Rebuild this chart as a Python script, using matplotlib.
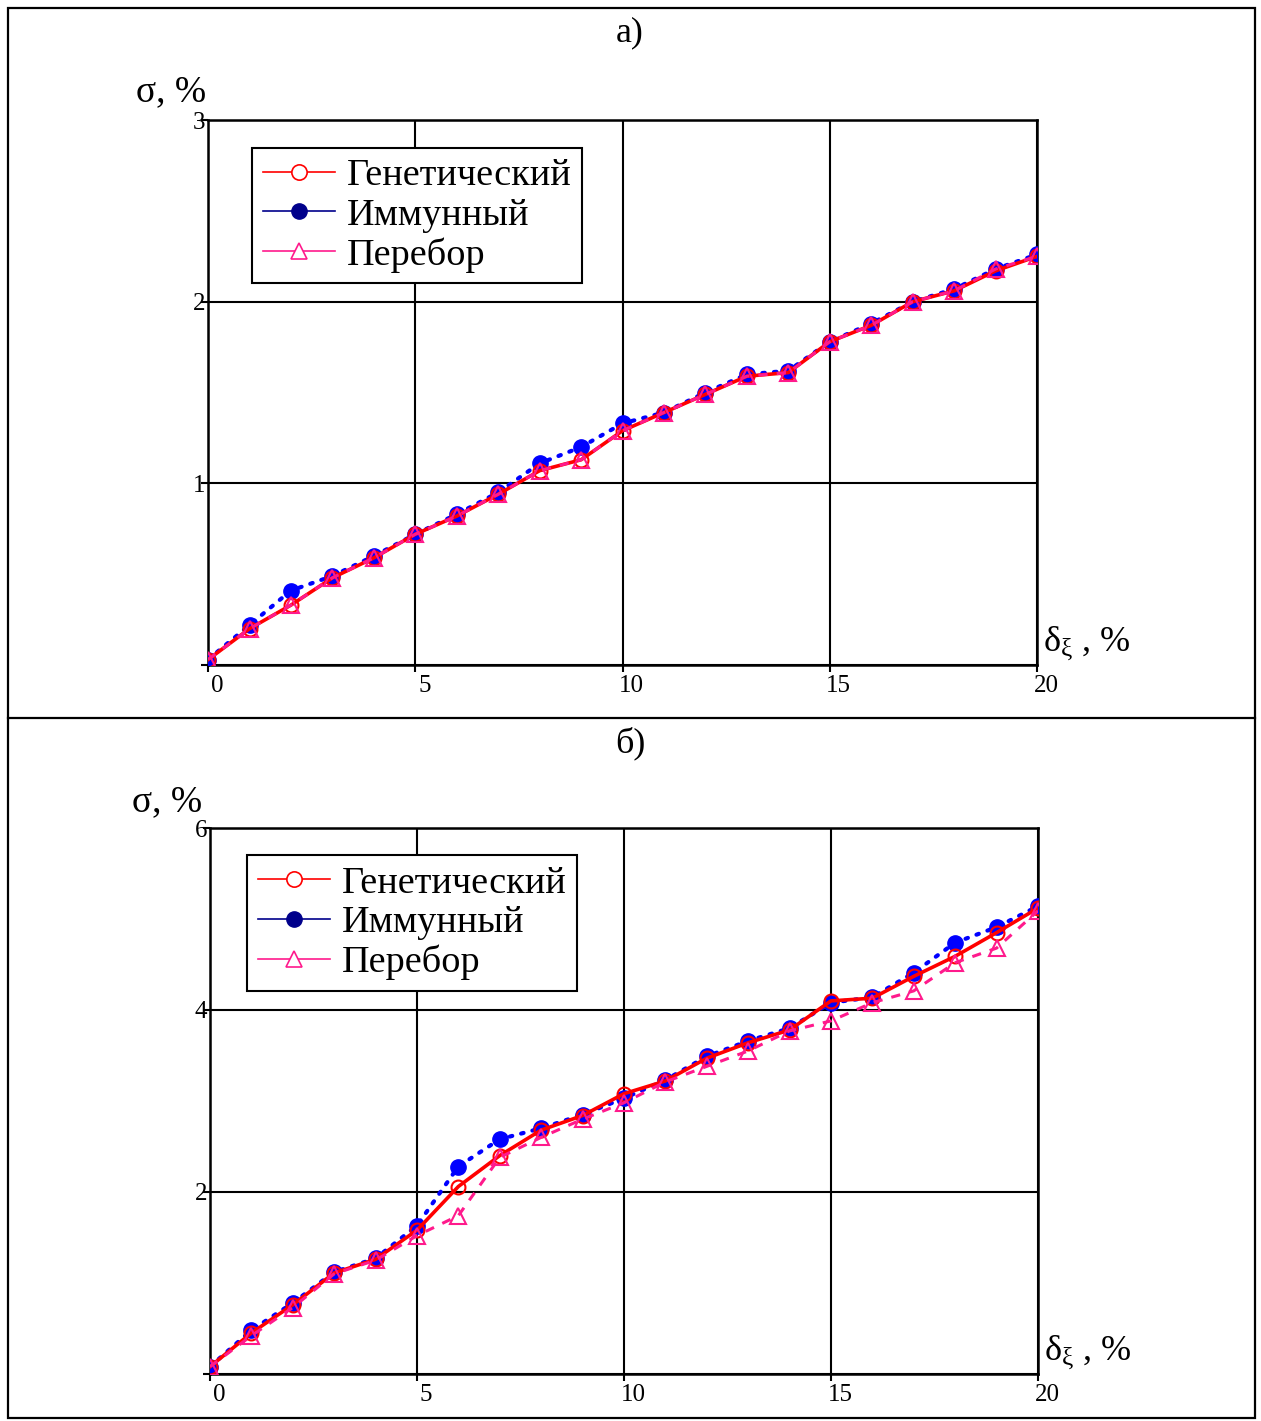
import numpy as np
import matplotlib
matplotlib.use("Agg")
import matplotlib.pyplot as plt
from matplotlib.lines import Line2D
from matplotlib.transforms import ScaledTranslation

plt.rcParams['font.family'] = ['Liberation Serif', 'DejaVu Serif']
plt.rcParams['mathtext.fontset'] = 'custom'
plt.rcParams['mathtext.rm'] = 'Liberation Serif'
plt.rcParams['mathtext.it'] = 'Liberation Serif'

x = np.arange(0, 21)
names = ['Генетический', 'Иммунный', 'Перебор']

# panel a)
gen_a = [0.03, 0.20, 0.33, 0.48, 0.59, 0.72, 0.82, 0.94, 1.07, 1.13, 1.29,
         1.39, 1.49, 1.59, 1.61, 1.78, 1.87, 2.00, 2.06, 2.17, 2.25]
imm_a = [0.03, 0.22, 0.41, 0.49, 0.60, 0.72, 0.83, 0.95, 1.11, 1.20, 1.33,
         1.39, 1.50, 1.60, 1.62, 1.78, 1.88, 2.00, 2.07, 2.18, 2.26]
per_a = [0.03, 0.20, 0.33, 0.48, 0.59, 0.72, 0.82, 0.94, 1.07, 1.13, 1.29,
         1.39, 1.49, 1.59, 1.61, 1.78, 1.87, 2.00, 2.06, 2.18, 2.25]

# panel б)
gen_b = [0.08, 0.45, 0.76, 1.11, 1.26, 1.58, 2.06, 2.40, 2.68, 2.84, 3.08,
         3.22, 3.47, 3.64, 3.78, 4.10, 4.13, 4.37, 4.59, 4.85, 5.12]
imm_b = [0.08, 0.48, 0.78, 1.12, 1.27, 1.63, 2.28, 2.58, 2.70, 2.85, 3.03,
         3.23, 3.49, 3.66, 3.80, 4.08, 4.14, 4.41, 4.74, 4.91, 5.14]
per_b = [0.08, 0.42, 0.73, 1.10, 1.25, 1.52, 1.74, 2.38, 2.60, 2.80, 2.98,
         3.21, 3.38, 3.55, 3.77, 3.88, 4.08, 4.21, 4.52, 4.68, 5.09]

red = '#ff0000'
blue = '#0000ff'
pink = '#ff1a8c'
navy = '#00008b'

fig = plt.figure(figsize=(12.61, 14.21), dpi=100)


def draw_panel(rect, gen, imm, per, ymax, yticks, leg_anchor):
    ax = fig.add_axes(rect)
    ax.plot(x, imm, color=blue, ls=(0, (0.6, 2.2)), lw=3, marker='o', ms=11,
            mfc=blue, mec=blue, zorder=3, dash_capstyle='round')
    ax.plot(x, gen, color=red, ls='-', lw=2.6, marker='o', ms=10,
            mfc='none', mec=red, mew=1.5, zorder=4)
    ax.plot(x, per, color=pink, ls=(0, (3, 3)), lw=2.2, marker='^', ms=11,
            mfc='none', mec=pink, mew=1.5, zorder=5)
    ax.set_xlim(0, 20)
    ax.set_ylim(0, ymax)
    ax.set_xticks([0, 5, 10, 15, 20])
    ax.set_yticks(yticks)
    ax.set_yticklabels([str(v) if v != 0 else '' for v in yticks])
    ax.grid(True, color='black', lw=1.5)
    ax.set_axisbelow(True)
    for s in ax.spines.values():
        s.set_linewidth(1.8)
    ax.tick_params(direction='out', length=5, width=1.5, labelsize=18, pad=2)
    ax.tick_params(axis='y', pad=-3)
    # x tick labels sit a bit to the right of their ticks
    off = ScaledTranslation(0.09, 0, fig.dpi_scale_trans)
    for lab in ax.get_xticklabels():
        lab.set_transform(lab.get_transform() + off)
    handles = [
        Line2D([], [], color=red, lw=1.2, marker='o', ms=11, mfc='white', mec=red, mew=1.2),
        Line2D([], [], color=navy, lw=1.2, marker='o', ms=11, mfc=navy, mec=navy),
        Line2D([], [], color=pink, lw=1.2, marker='^', ms=12, mfc='white', mec=pink, mew=1.2),
    ]
    leg = ax.legend(handles, names, loc='upper left', bbox_to_anchor=leg_anchor,
                    borderaxespad=0, fontsize=27.5, handlelength=1.9,
                    handletextpad=0.3, labelspacing=0.12, borderpad=0.28,
                    fancybox=False, framealpha=1, edgecolor='black')
    leg.get_frame().set_linewidth(1.5)
    return ax


draw_panel([0.165, 0.532, 0.6574, 0.3835], gen_a, imm_a, per_a, 3, [0, 1, 2, 3],
           (0.053, 0.949))
draw_panel([0.1665, 0.0331, 0.6566, 0.3842], gen_b, imm_b, per_b, 6, [0, 2, 4, 6],
           (0.045, 0.950))

H = 1421.0
W = 1261.0
fig.text(630 / W, 1 - 33 / H, 'а)', ha='center', va='center', fontsize=26)
fig.text(630 / W, 1 - 743 / H, 'б)', ha='center', va='center', fontsize=26)
fig.text(171 / W, 1 - 92 / H, 'σ, %', ha='center', va='center', fontsize=27)
fig.text(167 / W, 1 - 802 / H, 'σ, %', ha='center', va='center', fontsize=27)
fig.text(1087 / W, 1 - 643 / H, r'$\delta_\xi$ , %', ha='center', va='center', fontsize=26)
fig.text(1088 / W, 1 - 1352 / H, r'$\delta_\xi$ , %', ha='center', va='center', fontsize=26)

# table borders
fig.add_artist(plt.Rectangle((8 / W, 1 - 1418 / H), (1255 - 8) / W, (1418 - 8) / H,
                             transform=fig.transFigure, fill=False, lw=1.6, ec='black'))
fig.add_artist(Line2D([8 / W, 1255 / W], [1 - 718 / H, 1 - 718 / H],
                      transform=fig.transFigure, color='black', lw=1.6))

fig.savefig('out.png', dpi=100)
